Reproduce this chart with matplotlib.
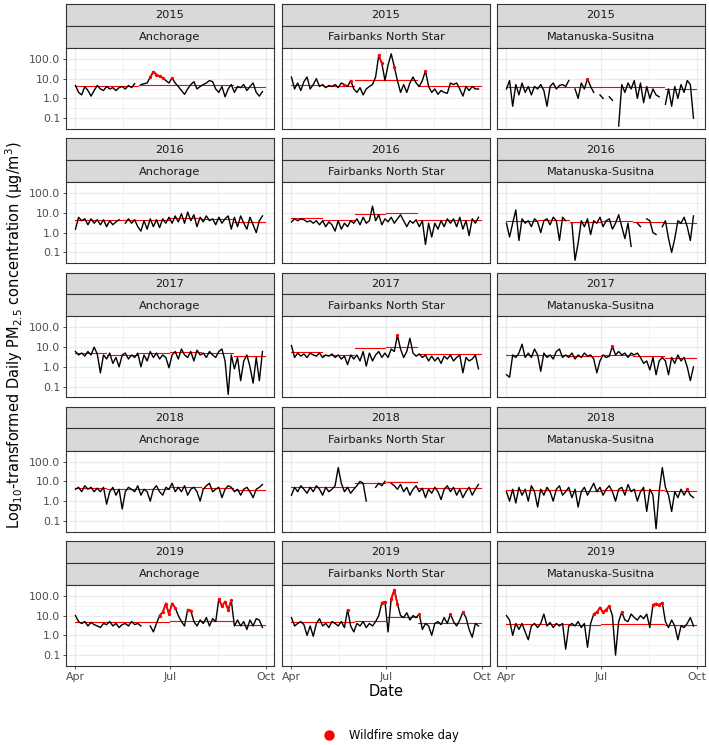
import numpy as np
import matplotlib
matplotlib.use("Agg")
import matplotlib.pyplot as plt
from matplotlib.lines import Line2D

nan = float("nan")

years = [2015, 2016, 2017, 2018, 2019]
locations = ["Anchorage", "Fairbanks North Star", "Matanuska-Susitna"]
day_step = 3  # one reading every 3 days from Apr 1
month_starts = [0, 30, 61, 91, 122, 153, 183]
xtick_days = [0, 91, 183]
xtick_labels = ["Apr", "Jul", "Oct"]
ytick_vals = [0.1, 1.0, 10.0, 100.0]
ytick_labels = ["0.1", "1.0", "10.0", "100.0"]

# ---- 2015 ----
anc_2015 = [4.5, 2.0, 1.5, 4.0, 2.5, 1.3, 2.5, 4.5, 3.0, 2.5,
            4.0, 3.0, 3.5, 2.5, 3.5, 4.0, 3.0, 4.5, 3.5, 5.5,
            nan, 5.0, 5.5, 6.0, 12, 22, 16, 13, 11, 8,
            6, 11, 6, 4, 2.5, 1.6, 3, 5, 7, 3, 4,
            5, 6, 8, 7, 3, 2, 4, 1.2, 3, 5,
            2, 4, 3.5, 5, 2.5, 4, 6, 2, 1.3, 2.2]
anc_2015_smoke = [24, 25, 26, 27, 28, 31]
anc_2015_mean = [4.3, 4.0, 5.0, 5.0, 5.0, 3.6]

fbk_2015 = [12, 3, 6, 2.5, 7, 12, 3, 5, 10, 4,
            5, 3.5, 4.5, 4, 5, 3.5, 6, 5, 4, 8,
            3, 2, 3.5, 1.5, 3, 4, 5, 12, 150, 60,
            8, 50, 180, 40, 8, 2, 5, 2, 6, 12, 6,
            4, 8, 25, 4, 2, 3, 1.6, 2.5, 2, 1.8,
            6, 5, 6, 3, 1.3, 4, 2.5, 4, 3, 3]
fbk_2015_smoke = [17, 19, 28, 29, 33, 43]
fbk_2015_mean = [5.0, 4.0, 8.5, 8.7, 4.3, 4.3]

mat_2015 = [3, 8, 0.4, 5, 1.5, 6, 2, 4, 1.5, 4,
            3, 5, 2.5, 0.4, 4, 6, 3, 4.5, 5, 4,
            8, nan, 3, 1, 6, 3, 10, 4, 2, nan,
            1.5, 1.0, nan, 1.2, 0.8, nan, 0.04, 5, 2, 6, 3,
            8, 1, 6, 0.6, 4, 1, 3, 1.5, 1.2, nan,
            0.5, 3, 0.4, 4, 1, 5, 2, 8, 5, 0.1]
mat_2015_smoke = [26]
mat_2015_mean = [3.7, 3.9, 3.7, 3.8, 3.7, 3.0]

# ---- 2016 ----
anc_2016 = [1.5, 6, 4, 5, 2.5, 5, 3, 4.5, 2.5, 4.5,
            2, 4, 2.5, 3.5, 4.5, nan, 3, 5, 3, 4.5,
            2, 1.2, 4, 1.5, 5, 2, 4.5, 1.8, 5, 3,
            6, 3, 7, 3.5, 9, 3, 11, 4, 8, 2, 6,
            3.5, 7, 4, 5, 2.5, 6, 3, 5, 7, 1.5,
            6, 2, 7, 3, 1.5, 6, 2.5, 1, 4, 7]
anc_2016_smoke = []
anc_2016_mean = [4.6, 4.6, 4.5, 5.3, 5.0, 3.6]

fbk_2016 = [3.5, 5, 4, 5, 4.5, 3.5, 4, 3, 4, 2.5,
            4, 2, 3.5, 2.5, 1.2, 4, 1.5, 3, 2, 4,
            3, 5, 2.5, 6, 3, 4, 22, 4, 8, 2.5,
            5, 3.5, 6, 3, 5, 8, 4, 2, 4, 3, 4.5,
            2, 4, 0.25, 3, 0.6, 3, 1.5, 4, 2, 5,
            3, 5, 2, 6, 1.5, 4, 0.7, 5, 3, 6]
fbk_2016_smoke = []
fbk_2016_mean = [5.3, 4.4, 8.5, 10.0, 4.4, 4.4]

mat_2016 = [3, 0.6, 3, 14, 0.4, 5, 3, 4, 2, 5,
            3.5, 1, 4, 5, 2.5, 6, 4, 0.4, 6, 4,
            nan, 3, 0.04, 0.3, 4, 2, 5, 0.8, 4, 3,
            6, 2, 4, 5, 1.5, 3, 8, 2, 0.5, 3, 0.2,
            nan, 3, 2, nan, 5, 4, 1, 0.8, nan, 2,
            4, 0.5, 0.1, 0.5, 4, 3, 6, 2, 0.4, 7]
mat_2016_smoke = []
mat_2016_mean = [4.1, 4.3, 3.5, 4.1, 3.5, 3.0]

# ---- 2017 ----
anc_2017 = [6, 4, 5, 3.5, 6, 4, 10, 4.5, 0.5, 4,
            2.5, 5, 1.5, 3, 1, 4, 5, 2.5, 4, 3,
            5, 1, 4, 2, 6, 3, 5, 2.5, 4, 3,
            0.9, 4, 6, 2.5, 8, 4, 3, 6, 2, 7, 4,
            5, 3, 6, 4, 3, 6, 8, 2, 0.04, 4,
            0.8, 3, 0.2, 2, 4, 1, 0.15, 3, 0.2, 6]
anc_2017_smoke = []
anc_2017_mean = [4.8, 4.1, 5.0, 5.6, 5.2, 3.5]

fbk_2017 = [12, 3, 5, 3.5, 4.5, 3, 5, 4, 3.5, 5,
            3, 4, 3.5, 4.5, 3, 4, 2.5, 3.5, 1.3, 4,
            2.5, 4, 2, 6, 1.1, 5, 2, 4, 6, 3,
            5, 3, 8, 6, 40, 8, 3, 6, 28, 5, 3.5,
            4.5, 3, 4, 2, 3.5, 2, 3, 1.5, 3.5, 2.5,
            4, 2, 3, 4, 0.5, 3, 2, 2.5, 4, 0.8]
fbk_2017_smoke = [34]
fbk_2017_mean = [5.6, 4.1, 9.0, 10.0, 4.3, 4.3]

mat_2017 = [0.4, 0.3, 4, 3, 5, 14, 3, 5, 3, 8,
            4, 0.6, 5, 3, 4, 2.5, 6, 8, 3, 4,
            3, 5, 2.5, 4, 3, 5, 3.5, 4, 2.5, 0.5,
            2, 4, 3, 3.5, 11, 4, 6, 4, 5, 3, 5,
            4, 5, 3, 1.5, 2, 0.7, 3, 0.4, 2, 3,
            2, 0.4, 3, 1.5, 4, 2, 3, 1, 0.2, 1]
mat_2017_smoke = [34]
mat_2017_mean = [3.8, 3.8, 3.4, 3.8, 3.4, 2.9]

# ---- 2018 ----
anc_2018 = [4, 5, 3, 6, 4, 5, 3, 4.5, 3, 5,
            0.7, 3, 5, 2, 4, 0.4, 3, 5, 4, 3,
            6, 2, 4, 3, 1, 4, 6, 3, 2, 5,
            4, 8, 3, 5, 3, 6, 2, 4, 5, 3, 1,
            4, 6, 8, 3, 4, 5, 1.5, 4, 6, 5,
            3, 4, 2, 4, 5, 3, 1.5, 4, 5, 7]
anc_2018_smoke = []
anc_2018_mean = [4.5, 4.3, 4.0, 5.0, 4.5, 3.5]

fbk_2018 = [2, 5, 3, 6, 4, 2.5, 5, 3, 6, 4,
            2, 5, 3, 4, 6, 50, 8, 3, 5, 2.5,
            4, 6, 10, 8, 1, nan, nan, 5, 8, 6,
            10, nan, 8, 6, 4, 7, 3, 5, 2, 4, 6,
            3, 4.5, 1.5, 4, 2.5, 5, 3, 1.2, 4, 6,
            3, 5, 2, 4, 1.5, 3, 5, 2, 4, 7]
fbk_2018_smoke = []
fbk_2018_mean = [5.0, 5.0, 8.5, 9.0, 4.5, 4.5]

mat_2018 = [3, 1, 4, 0.8, 5, 2, 4, 1, 6, 3,
            0.5, 4, 2, 5, 3, 1, 4, 6, 2, 3,
            5, 1.5, 4, 0.5, 3, 5, 2, 4, 8, 3,
            5, 2, 4, 6, 3, 1, 4, 5, 2, 7, 3,
            4, 1, 3, 5, 0.3, 4, 2, 0.04, 3, 50,
            5, 2, 0.3, 3, 1.5, 4, 2, 4, 2, 1.5]
mat_2018_smoke = [58]
mat_2018_mean = [3.5, 3.5, 3.4, 3.6, 3.5, 3.2]

# ---- 2019 ----
anc_2019 = [10, 5, 4, 5, 3, 4.5, 3.5, 3, 2.5, 4,
            3.5, 5, 3, 4, 2.5, 3.5, 4, 3, 5, 3.5,
            4, 3, nan, nan, 3, 1.5, 4, 10, 15, 40,
            12, 40, 25, 10, 5, 3, 20, 18, 5, 3, 6,
            4, 8, 3, 7, 5, 70, 30, 50, 20, 60,
            3, 6, 3, 5, 2, 6, 3, 7, 6, 2.5]
anc_2019_smoke = [27, 28, 29, 30, 31, 32, 36, 37, 46, 47, 48, 49, 50]
anc_2019_mean = [4.6, 4.6, 4.6, 5.1, 5.1, 3.5]

fbk_2019 = [8, 3, 4, 5, 3.5, 1, 3, 0.9, 4, 7,
            3, 4, 2.5, 5, 4, 3, 5, 2.5, 20, 3,
            1.5, 4, 3, 5, 2.5, 4, 3, 5, 10, 45,
            50, 1.5, 70, 200, 40, 10, 8, 14, 6, 10, 8,
            12, 2, 4, 3, 1, 4, 5, 3.5, 8, 4,
            12, 5, 3, 6, 15, 8, 2, 0.8, 4, 3]
fbk_2019_smoke = [18, 29, 30, 32, 33, 34, 41, 51, 55]
fbk_2019_mean = [4.9, 4.9, 5.2, 8.5, 4.4, 4.4]

mat_2019 = [10, 6, 1, 4, 2, 4, 1.5, 0.6, 3, 4,
            2.5, 4, 12, 3, 4.5, 2.5, 4, 3, 4, 0.2,
            3, 4, 3, 5, 2.5, 4, 0.25, 4, 12, 15,
            25, 15, 20, 30, 10, 0.1, 5, 15, 6, 5, 12,
            8, 6, 10, 7, 12, 2.5, 35, 40, 35, 45,
            5, 2.5, 6, 3, 0.6, 3, 2.5, 4, 8, 3]
mat_2019_smoke = [28, 29, 30, 31, 32, 33, 37, 47, 48, 49, 50]
mat_2019_mean = [3.6, 3.6, 3.5, 3.7, 3.7, 3.2]

series = [
    [(anc_2015, anc_2015_smoke, anc_2015_mean), (fbk_2015, fbk_2015_smoke, fbk_2015_mean), (mat_2015, mat_2015_smoke, mat_2015_mean)],
    [(anc_2016, anc_2016_smoke, anc_2016_mean), (fbk_2016, fbk_2016_smoke, fbk_2016_mean), (mat_2016, mat_2016_smoke, mat_2016_mean)],
    [(anc_2017, anc_2017_smoke, anc_2017_mean), (fbk_2017, fbk_2017_smoke, fbk_2017_mean), (mat_2017, mat_2017_smoke, mat_2017_mean)],
    [(anc_2018, anc_2018_smoke, anc_2018_mean), (fbk_2018, fbk_2018_smoke, fbk_2018_mean), (mat_2018, mat_2018_smoke, mat_2018_mean)],
    [(anc_2019, anc_2019_smoke, anc_2019_mean), (fbk_2019, fbk_2019_smoke, fbk_2019_mean), (mat_2019, mat_2019_smoke, mat_2019_mean)],
]

W, H = 709, 745
fig = plt.figure(figsize=(W / 100, H / 100), dpi=100)
fig.patch.set_facecolor("white")


def rect(x0, y0, x1, y1):
    return [x0 / W, 1 - y1 / H, (x1 - x0) / W, (y1 - y0) / H]


col_left = [66, 282, 497]
pw = 208
pitch = 134.25
border = "#333333"
gridc = "#EBEBEB"
txtc = "#4D4D4D"

minor_y = [10 ** -0.5, 10 ** 0.5, 10 ** 1.5]
minor_x = [45.5, 137]

for r, yr in enumerate(years):
    s1_top = 4 + pitch * r
    s1_bot = 25.5 + pitch * r
    s2_bot = 48 + pitch * r
    p_bot = 129 + pitch * r
    for c, loc in enumerate(locations):
        L = col_left[c]
        # strips
        for (t0, t1, label) in [(s1_top, s1_bot, str(yr)), (s1_bot, s2_bot, loc)]:
            sa = fig.add_axes(rect(L, t0, L + pw, t1))
            sa.set_facecolor("#D9D9D9")
            sa.set_xticks([]); sa.set_yticks([])
            for sp in sa.spines.values():
                sp.set_color(border); sp.set_linewidth(0.8)
            sa.text(0.5, 0.47, label, ha="center", va="center", fontsize=8.2,
                    color="#1A1A1A", transform=sa.transAxes)
        ax = fig.add_axes(rect(L, s2_bot, L + pw, p_bot))
        vals, smoke, mean = series[r][c]
        days = np.arange(len(vals)) * day_step
        v = np.array(vals, dtype=float)
        ax.set_yscale("log")
        ax.set_ylim(10 ** -1.55, 10 ** 2.55)
        ax.set_xlim(-9.1, 191.1)
        for yv in minor_y:
            ax.axhline(yv, color=gridc, lw=0.45, zorder=0)
        for xv in minor_x:
            ax.axvline(xv, color=gridc, lw=0.45, zorder=0)
        for yv in ytick_vals:
            ax.axhline(yv, color=gridc, lw=0.9, zorder=0)
        for xv in xtick_days:
            ax.axvline(xv, color=gridc, lw=0.9, zorder=0)
        # monthly means
        for m in range(6):
            ax.plot([month_starts[m], month_starts[m + 1] - 1], [mean[m], mean[m]],
                    color="#FF0000", lw=0.8, zorder=2)
        ax.plot(days, v, color="black", lw=1.0, zorder=3)
        sm = sorted(smoke)
        for a, b in zip(sm[:-1], sm[1:]):
            if b == a + 1:
                ax.plot([days[a], days[b]], [v[a], v[b]], color="#FF0000", lw=1.3, zorder=4)
        if sm:
            ax.plot(days[sm], v[sm], "o", color="#FF0000", ms=2.4, mew=0, zorder=5)
        for sp in ax.spines.values():
            sp.set_color(border); sp.set_linewidth(0.8)
        ax.minorticks_off()
        ax.set_yticks(ytick_vals)
        ax.set_xticks(xtick_days)
        ax.tick_params(colors=border, length=2.5, width=0.6, labelsize=7.8, labelcolor=txtc, pad=1.5)
        if c == 0:
            ax.set_yticklabels(ytick_labels)
        else:
            ax.tick_params(axis="y", length=0, labelleft=False)
        if r == len(years) - 1:
            ax.set_xticklabels(xtick_labels)
        else:
            ax.tick_params(axis="x", length=0, labelbottom=False)

fig.text(14 / W, 1 - 335 / H,
         "Log$_{10}$-transformed Daily PM$_{2.5}$ concentration (μg/m$^{3}$)",
         rotation=90, ha="center", va="center", fontsize=10.5, color="black")
fig.text(386 / W, 1 - 692 / H, "Date", ha="center", va="center", fontsize=10.5, color="black")

lax = fig.add_axes([0, 0, 1, 1], facecolor="none")
lax.set_xlim(0, W); lax.set_ylim(H, 0); lax.axis("off")
lax.add_line(Line2D([329], [735], marker="o", color="#FF0000", ms=7.5, mew=0))
lax.text(349, 735, "Wildfire smoke day", ha="left", va="center", fontsize=8.3, color="black")

fig.savefig("out.png", dpi=100, facecolor="white")
